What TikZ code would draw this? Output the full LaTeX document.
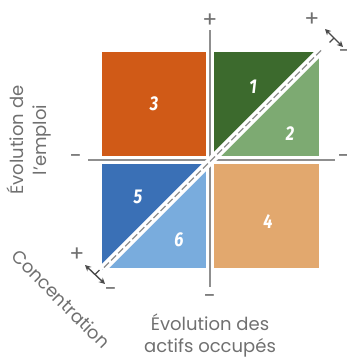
\documentclass[tikz,border=0pt]{standalone}
\usepackage{fontspec}
\setmainfont{Poppins}
\newfontfamily\numfont{Fira Sans}
\usetikzlibrary{arrows.meta}
\definecolor{cOrange}{HTML}{D05A17}
\definecolor{cDkGreen}{HTML}{3C6A2D}
\definecolor{cLtGreen}{HTML}{7DAA72}
\definecolor{cBlue}{HTML}{3A70B6}
\definecolor{cLtBlue}{HTML}{79ACDD}
\definecolor{cLtOrange}{HTML}{E2A86E}
\definecolor{cText}{HTML}{707070}
\definecolor{cAxis}{HTML}{8F8F8F}
\definecolor{cArrow}{HTML}{4A4A4A}
\tikzset{
  axis/.style={draw=cAxis, line width=1.8pt},
  sign/.style={text=cText, font=\fontsize{22}{22}\selectfont, inner sep=0pt},
  lbl/.style={text=cText, font=\fontsize{18}{22.5}\selectfont, align=center, inner sep=0pt},
  num/.style={text=white, font=\numfont\bfseries\itshape\fontsize{20}{20}\selectfont, inner sep=0pt},
  dbl/.style={draw=cArrow, line width=1.4pt, {Stealth[length=6pt,width=6pt]}-{Stealth[length=6pt,width=6pt]}},
  stem/.style={draw=cArrow, line width=1.4pt},
}
\newcommand{\nm}[1]{\scalebox{0.82}[1]{#1}}
\begin{document}
\begin{tikzpicture}[x=1pt,y=-1pt]
\useasboundingbox (0,0) rectangle (347,359);
% axes
\coordinate (vt) at (210,30);
\coordinate (vb) at (210,287);
\coordinate (hl) at (88,160);
\coordinate (hr) at (335,160);
\draw[axis] (vt) -- (vb);
\draw[axis] (hl) -- (hr);
% squares
\fill[cOrange] (102,52) rectangle (206,156);
\fill[cLtGreen] (214,52) rectangle (318.5,156);
\fill[cDkGreen] (214,52) -- (319.5,52) -- (214,157.5) -- cycle;
\fill[cLtOrange] (214,164) rectangle (319,268);
\fill[cLtBlue] (102,164) rectangle (206,268);
\fill[cBlue] (102,164) -- (207.5,164) -- (102,269.5) -- cycle;
% diagonal
\coordinate (d1) at (102.5,269);
\coordinate (d2) at (322.5,49);
\draw[white, line width=8pt] (d1) -- (d2);
\draw[cAxis, line width=1.3pt, dash pattern=on 7pt off 3pt] (104,267.5) -- (321.5,50);
% numbers
\node[num] (n3) at (154,104) {\nm{3}};
\node[num] (n1) at (253,87) {\nm{1}};
\node[num] (n2) at (290,134) {\nm{2}};
\node[num] (n4) at (268,222) {\nm{4}};
\node[num] (n5) at (138,197) {\nm{5}};
\node[num] (n6) at (179,240) {\nm{6}};
% signs
\node[sign] (pt) at (210,21) {+};
\node[sign] (pb) at (210,299) {-};
\node[sign] (pl) at (76,159) {-};
\node[sign] (pr) at (344,159) {-};
\node[sign] (ptr) at (312,20) {+};
\node[sign] (mtr) at (345,54) {-};
\node[sign] (pbl) at (77,255) {+};
\node[sign] (mbl) at (111,292) {-};
% concentration arrows
\coordinate (a1) at (325,29);
\coordinate (a2) at (343,47);
\coordinate (am) at (334,38);
\coordinate (as) at (329.5,42.5);
\draw[dbl] (a1) -- (a2);
\draw[stem] (am) -- (as);
\coordinate (b1) at (85,265);
\coordinate (b2) at (105,284);
\coordinate (bm) at (95,274.5);
\coordinate (bs) at (99.5,270);
\draw[dbl] (b1) -- (b2);
\draw[stem] (bm) -- (bs);
% labels
\node[lbl, rotate=90] (ly) at (29,140) {Évolution de\\l’emploi};
\node[lbl] (lx) at (210,335.5) {Évolution des\\actifs occupés};
\node[lbl, rotate=-45] (lc) at (61,299) {Concentration};
\end{tikzpicture}
\end{document}
